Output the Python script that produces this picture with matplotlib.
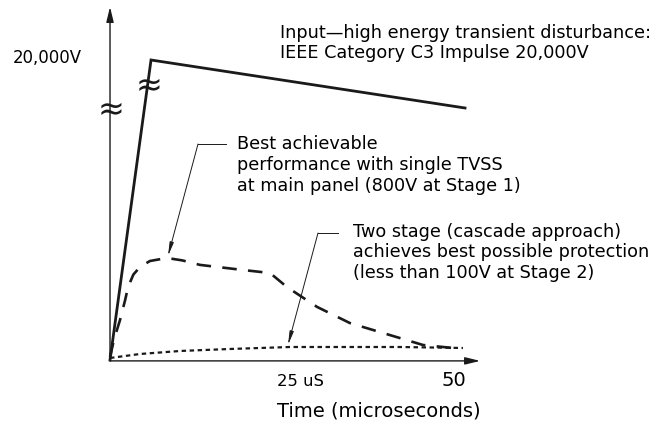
import numpy as np
import matplotlib.pyplot as plt

plt.rcParams['font.family'] = ['DejaVu Sans']

# schematic values: time in microseconds, level in % of the 20,000V peak (broken axis)
input_t = [0, 5.96, 51.6]
input_v = [0, 100, 84]

single_t = [0, 0.6, 1.45, 2.2, 2.62, 3.4, 4.36, 5.8, 8.28, 10.5, 13.08, 19.33, 23.26,
            25.73, 30.09, 34.88, 40.7, 45.49, 49.85]
single_v = [1, 7, 13.3, 20, 24.3, 28.5, 31, 33, 34, 33.2, 31.7, 30, 29,
            24.3, 17.7, 12.3, 8.3, 5, 4]

cascade_t = [0, 4.36, 10.17, 17.44, 26.16, 42.15, 51.3]
cascade_v = [0.67, 2, 3, 3.67, 4.33, 4.33, 4]

fig = plt.figure(figsize=(6.62, 4.25), dpi=100)
ax = fig.add_axes([0, 0, 1, 1])
ax.set_xlim(-15.99, 80.23)
ax.set_ylim(-21.67, 120)
ax.axis('off')

# axes with arrows
ax.annotate('', xy=(0, 117.7), xytext=(0, -0.3),
            arrowprops=dict(arrowstyle='-|>,head_length=0.9,head_width=0.22',
                            lw=1.0, color='#1a1a1a', shrinkA=0, shrinkB=0))
ax.annotate('', xy=(53.8, -0.3), xytext=(0, -0.3),
            arrowprops=dict(arrowstyle='-|>,head_length=0.9,head_width=0.22',
                            lw=1.0, color='#1a1a1a', shrinkA=0, shrinkB=0))

ax.plot(input_t, input_v, color='#1a1a1a', lw=2.0, solid_joinstyle='miter')
ax.plot(single_t, single_v, color='#1a1a1a', lw=1.9, dashes=(5.5, 4.3))
ax.plot(cascade_t, cascade_v, color='#1a1a1a', lw=1.6, dashes=(2, 1.6))

# axis break marks
ax.text(0.15, 83.3, '\u2248', fontsize=23, ha='center', va='center', color='#1a1a1a')
ax.text(5.74, 91.2, '\u2248', fontsize=23, ha='center', va='center', color='#1a1a1a')

fs = 12.7
ax.text(24.7, 109, 'Input\u2014high energy transient disturbance:', fontsize=fs, va='center')
ax.text(24.7, 102.3, 'IEEE Category C3 Impulse 20,000V', fontsize=fs, va='center')

ax.text(18.46, 72, 'Best achievable', fontsize=fs, va='center')
ax.text(18.46, 65, 'performance with single TVSS', fontsize=fs, va='center')
ax.text(18.46, 58, 'at main panel (800V at Stage 1)', fontsize=fs, va='center')

ax.text(35.32, 42.67, 'Two stage (cascade approach)', fontsize=fs, va='center')
ax.text(35.32, 36, 'achieves best possible protection', fontsize=fs, va='center')
ax.text(35.32, 29, '(less than 100V at Stage 2)', fontsize=fs, va='center')

ax.text(-14.1, 100.7, '20,000V', fontsize=11.9, va='center')
ax.text(24.27, -7.3, '25 uS', fontsize=11.8, ha='left', va='center')
ax.text(50, -7, '50', fontsize=14, ha='center', va='center')
ax.text(24.27, -17, 'Time (microseconds)', fontsize=14, ha='left', va='center')

# leader lines
leader = dict(arrowstyle='-|>,head_length=0.8,head_width=0.12', lw=0.7,
              color='#1a1a1a', shrinkA=0, shrinkB=0)
ax.plot([16.86, 12.79], [72, 72], color='#1a1a1a', lw=0.7)
ax.annotate('', xy=(8.43, 34.67), xytext=(12.79, 72), arrowprops=leader)
ax.plot([33.14, 30.23], [42.33, 42.33], color='#1a1a1a', lw=0.7)
ax.annotate('', xy=(25.87, 5), xytext=(30.23, 42.33), arrowprops=leader)

fig.savefig('out.png', dpi=100)
